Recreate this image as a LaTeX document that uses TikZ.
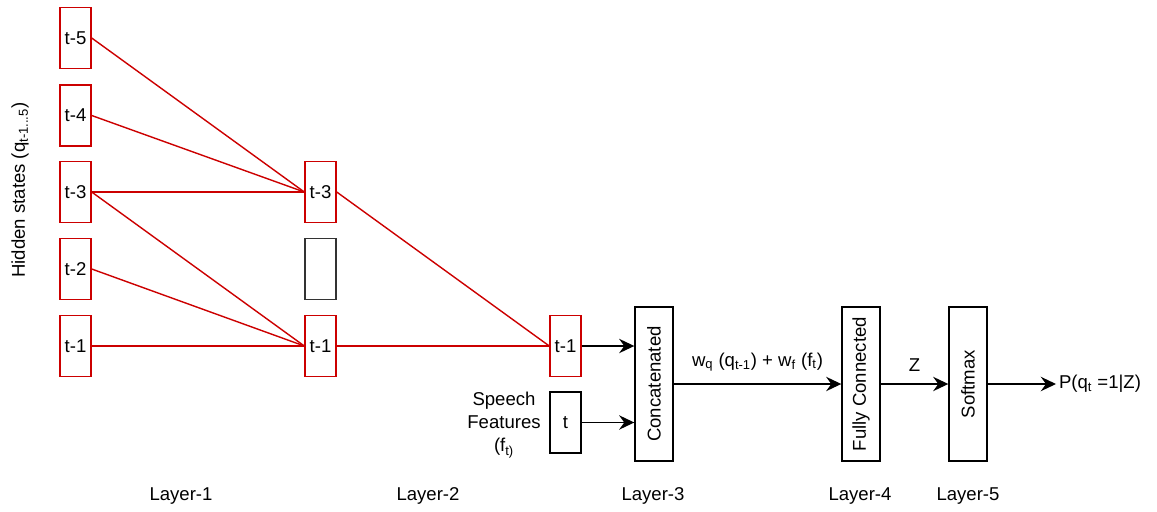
\documentclass[tikz,border=0pt]{standalone}
\usepackage{fontspec}
\setmainfont{Liberation Sans}
\usetikzlibrary{arrows.meta,positioning}
\definecolor{statered}{RGB}{204,0,0}

\begin{document}
\begin{tikzpicture}[
  x=0.025cm,y=-0.025cm,
  font=\fontsize{13.2}{15.5}\selectfont,
  state/.style={draw=statered,line width=1pt,minimum width=.775cm,minimum height=1.525cm,inner sep=0pt,fill=white},
  plain/.style={draw,line width=1pt,minimum width=.775cm,minimum height=1.525cm,inner sep=0pt},
  layer/.style={draw,line width=1pt,minimum width=.95cm,minimum height=3.85cm,inner sep=0pt},
  link/.style={statered,line width=1pt},
  flow/.style={line width=1pt,-{Stealth[length=3.8mm,width=3.6mm,inset=1.3mm]}}
]
  \useasboundingbox (0,0) rectangle (1157,512);

  % layer 1 : hidden states
  \node[state] (a5) at (75.5,38) {t-5};
  \node[state] (a4) at (75.5,115.5) {t-4};
  \node[state] (a3) at (75.5,192) {t-3};
  \node[state] (a2) at (75.5,269) {t-2};
  \node[state] (a1) at (75.5,346) {t-1};
  \node[rotate=90] (hidden) at (20,190) {Hidden states (q\textsubscript{t-1...5})};

  % layer 2
  \node[state] (b3) at (320.5,192) {t-3};
  \node[plain,draw=black!80] (b2) at (320.5,269) {};
  \node[state] (b1) at (320.5,346) {t-1};

  % layer 3
  \node[state] (c1) at (565.5,346) {t-1};
  \node[plain] (ct) at (565.5,422.5) {t};
  \node[align=center,inner sep=0pt] (speech) at (504,425) {Speech\\[1pt]Features\\[1pt](f\textsubscript{t)}};
  \node[layer] (concat) at (654,384) {\rotatebox{90}{Concatenated}};

  % layers 4 and 5
  \node[layer] (fc) at (861,384) {\rotatebox{90}{Fully Connected}};
  \node[layer] (soft) at (968,384) {\rotatebox{90}{Softmax}};
  \node[anchor=west,inner sep=2pt] (out) at (1056,384) {P(q\textsubscript{t} =1|Z)};

  % red links
  \draw[link] (a5.east) -- (b3.west);
  \draw[link] (a4.east) -- (b3.west);
  \draw[link] (a3.east) -- (b3.west);
  \draw[link] (a3.east) -- (b1.west);
  \draw[link] (a2.east) -- (b1.west);
  \draw[link] (a1.east) -- (b1.west);
  \draw[link] (b3.east) -- (c1.west);
  \draw[link] (b1.east) -- (c1.west);

  % arrows
  \draw[flow] (c1.east) -- (c1.east -| concat.west);
  \draw[flow] (ct.east) -- (ct.east -| concat.west);
  \draw[flow] (concat.east) -- node[above=5pt] (sum) {w\textsubscript{q} (q\textsubscript{t-1}) + w\textsubscript{f} (f\textsubscript{t})} (fc.west);
  \draw[flow] (fc.east) -- node[above=5pt] (zz) {Z} (soft.west);
  \draw[flow] (soft.east) -- (out.west);

  % layer names
  \node (l1) at (181,496) {Layer-1};
  \node (l2) at (428,496) {Layer-2};
  \node (l3) at (653,496) {Layer-3};
  \node (l4) at (860,496) {Layer-4};
  \node (l5) at (968,496) {Layer-5};
\end{tikzpicture}
\end{document}
